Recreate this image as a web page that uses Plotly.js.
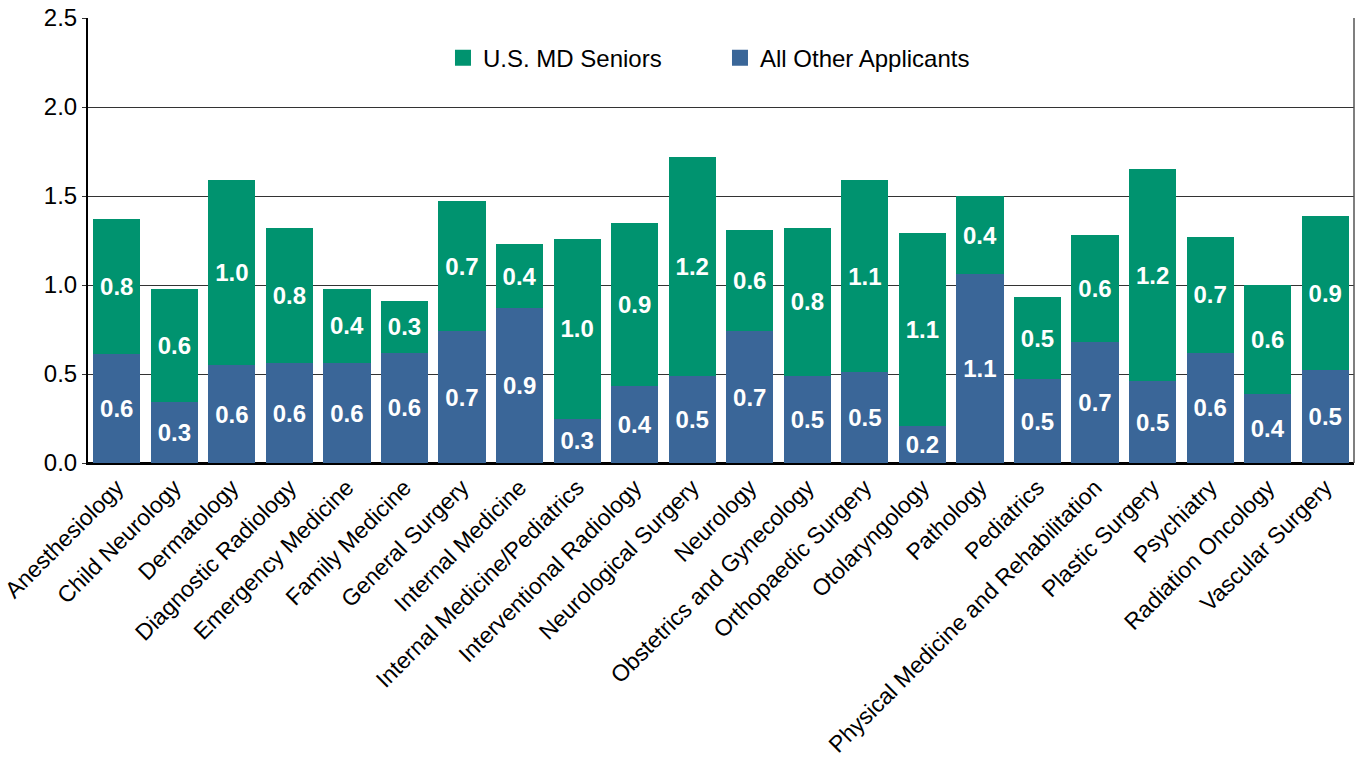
<!DOCTYPE html>
<html>
<head>
<meta charset="utf-8">
<script src="https://cdn.plot.ly/plotly-3.0.1.min.js"></script>
<style>html,body{margin:0;padding:0;background:#fff;}#chart{width:1356px;height:768px;}</style>
</head>
<body>
<div id="chart"></div>
<script>
const categories = ["Anesthesiology","Child Neurology","Dermatology","Diagnostic Radiology","Emergency Medicine","Family Medicine","General Surgery","Internal Medicine","Internal Medicine/Pediatrics","Interventional Radiology","Neurological Surgery","Neurology","Obstetrics and Gynecology","Orthopaedic Surgery","Otolaryngology","Pathology","Pediatrics","Physical Medicine and Rehabilitation","Plastic Surgery","Psychiatry","Radiation Oncology","Vascular Surgery"];
const otherApplicants = [0.61,0.34,0.55,0.56,0.56,0.62,0.74,0.87,0.25,0.43,0.49,0.74,0.49,0.51,0.21,1.06,0.47,0.68,0.46,0.62,0.39,0.52];
const mdSeniors = [0.76,0.64,1.04,0.76,0.42,0.29,0.73,0.36,1.01,0.92,1.23,0.57,0.83,1.08,1.08,0.44,0.46,0.60,1.19,0.65,0.61,0.87];
const seriesNames = ["U.S. MD Seniors","All Other Applicants"];
const colors = {green:"#00936F", blue:"#3A6698"};
const FONT = "Liberation Sans, Arial, sans-serif";

const labelFont = {family: FONT, size: 24, color: "#ffffff", weight: "bold"};
const traces = [
  {type:"bar", name: seriesNames[1], x: categories, y: otherApplicants,
   marker:{color: colors.blue}, texttemplate:"%{y:.1f}", textposition:"inside",
   insidetextanchor:"middle", textangle:0, insidetextfont: labelFont, hoverinfo:"skip", showlegend:false},
  {type:"bar", name: seriesNames[0], x: categories, y: mdSeniors,
   marker:{color: colors.green}, texttemplate:"%{y:.1f}", textposition:"inside",
   insidetextanchor:"middle", textangle:0, insidetextfont: labelFont, hoverinfo:"skip", showlegend:false},
  // legend-only entries (larger square symbols)
  {type:"scatter", mode:"markers", name: seriesNames[0], x:[null], y:[null],
   marker:{symbol:"square", size:16, color: colors.green}, hoverinfo:"skip", showlegend:true},
  {type:"scatter", mode:"markers", name: seriesNames[1], x:[null], y:[null],
   marker:{symbol:"square", size:16, color: colors.blue}, hoverinfo:"skip", showlegend:true}
];

const layout = {
  width:1356, height:768,
  margin:{l:88, r:2, t:18, b:305},
  paper_bgcolor:"#fff", plot_bgcolor:"#fff",
  barmode:"stack", bargap:0.18,
  font:{family: FONT, size:24, color:"#000"},
  uniformtext:{mode:"show", minsize:24},
  showlegend:true,
  legend:{orientation:"h", x:0.2804, xanchor:"left", y:0.91, yanchor:"middle",
          traceorder:"normal", itemsizing:"trace", font:{family:FONT, size:24, color:"#000"},
          entrywidth:232, entrywidthmode:"pixels", bgcolor:"rgba(0,0,0,0)"},
  xaxis:{type:"category", tickangle:-45, tickfont:{family:FONT, size:23, color:"#000"},
         showline:true, linecolor:"#000", linewidth:2, mirror:false, ticks:"", showgrid:false,
         automargin:false},
  yaxis:{range:[0,2.5], dtick:0.5, tickformat:".1f", showgrid:true, gridcolor:"#333", gridwidth:1,
         showline:true, linecolor:"#000", linewidth:2, mirror:false, ticks:"outside", ticklen:4,
         tickcolor:"#333", tickfont:{family:FONT, size:24, color:"#000"}, zeroline:true,
         zerolinecolor:"#000", zerolinewidth:2, automargin:false},
  shapes:[{type:"line", xref:"paper", yref:"paper", x0:1, x1:1, y0:0, y1:1, line:{color:"#555", width:1.5}}]
};

Plotly.newPlot("chart", traces, layout, {staticPlot:true, displayModeBar:false});
</script>
</body>
</html>
